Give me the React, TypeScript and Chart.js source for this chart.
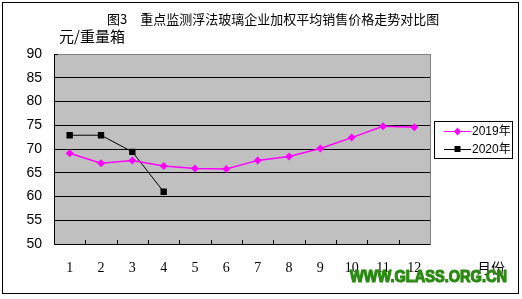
import React, { useEffect, useRef } from "react";
import { Chart, registerables } from "chart.js";

Chart.register(...registerables);

const months = ["1", "2", "3", "4", "5", "6", "7", "8", "9", "10", "11", "12"];
const series2019 = [69.1, 67.0, 67.6, 66.4, 65.9, 65.8, 67.6, 68.4, 70.1, 72.4, 74.8, 74.6];
const series2020: (number | null)[] = [72.9, 72.9, 69.4, 61.0, null, null, null, null, null, null, null, null];
const yTicks = [50, 55, 60, 65, 70, 75, 80, 85, 90];
const titleText = "图3　重点监测浮法玻璃企业加权平均销售价格走势对比图";
const unitText = "元/重量箱";
const xUnitText = "月份";
const watermark = "WWW.GLASS.ORG.CN";
const legendLabels = ["2019年", "2020年"];

const decorPlugin = {
  id: "decor",
  beforeDraw(chart: any) {
    const { ctx, chartArea: a } = chart;
    ctx.save();
    ctx.fillStyle = "#ffffff";
    ctx.fillRect(0, 0, chart.width, chart.height);
    ctx.fillStyle = "#c0c0c0";
    ctx.fillRect(a.left, a.top, a.right - a.left, a.bottom - a.top);
    ctx.strokeStyle = "#808080";
    ctx.lineWidth = 1;
    ctx.strokeRect(a.left + 0.5, a.top + 0.5, a.right - a.left, a.bottom - a.top);
    ctx.restore();
  },
  afterDraw(chart: any) {
    const { ctx, chartArea: a } = chart;
    const xs = chart.scales.x;
    ctx.save();
    ctx.strokeStyle = "#000";
    ctx.lineWidth = 1;
    ctx.beginPath();
    ctx.moveTo(a.left + 0.5, a.top);
    ctx.lineTo(a.left + 0.5, a.bottom + 0.5);
    ctx.lineTo(a.right, a.bottom + 0.5);
    ctx.stroke();
    const step = xs.getPixelForValue(1) - xs.getPixelForValue(0);
    ctx.beginPath();
    for (let i = 1; i < months.length; i++) {
      const px = Math.round(xs.getPixelForValue(i) - step / 2) + 0.5;
      ctx.moveTo(px, a.bottom);
      ctx.lineTo(px, a.bottom - 4);
    }
    ctx.stroke();
    ctx.beginPath();
    ctx.moveTo(a.left, a.top + 0.5);
    ctx.lineTo(a.left + 4, a.top + 0.5);
    ctx.stroke();

    ctx.strokeStyle = "#000";
    ctx.strokeRect(2.5, 2.5, 516, 291);

    ctx.fillStyle = "#000";
    ctx.textBaseline = "middle";
    ctx.textAlign = "left";
    ctx.font = "13px 'Noto Sans CJK SC'";
    ctx.fillText(titleText, 107, 19);
    ctx.font = "15px 'Noto Sans CJK SC'";
    ctx.fillText(unitText, 59, 36);
    ctx.font = "14px 'Noto Sans CJK SC'";
    ctx.fillText(xUnitText, 477, 268);

    const lx = 434, ly = 121, lw = 78, lh = 37;
    ctx.fillStyle = "#fff";
    ctx.fillRect(lx, ly, lw, lh);
    ctx.strokeStyle = "#000";
    ctx.strokeRect(lx + 0.5, ly + 0.5, lw, lh);
    const rows = [
      { y: 131, color: "#ff00ff", label: legendLabels[0], shape: "diamond" },
      { y: 149, color: "#000000", label: legendLabels[1], shape: "square" },
    ];
    for (const r of rows) {
      ctx.strokeStyle = r.color;
      ctx.lineWidth = 1;
      ctx.beginPath();
      ctx.moveTo(444, r.y + 0.5);
      ctx.lineTo(471, r.y + 0.5);
      ctx.stroke();
      ctx.fillStyle = r.color;
      if (r.shape === "diamond") {
        ctx.beginPath();
        ctx.moveTo(457.5, r.y - 3.5);
        ctx.lineTo(461, r.y + 0.5);
        ctx.lineTo(457.5, r.y + 4.5);
        ctx.lineTo(454, r.y + 0.5);
        ctx.closePath();
        ctx.fill();
      } else {
        ctx.fillRect(454.5, r.y - 3, 6, 6);
      }
      ctx.fillStyle = "#000";
      ctx.font = "12px 'Liberation Sans', 'Noto Sans CJK SC'";
      ctx.fillText(r.label, 472, r.y + 1);
    }

    ctx.fillStyle = "#2a8a12";
    ctx.strokeStyle = "#2a8a12";
    ctx.lineWidth = 1.2;
    ctx.font = "bold 16px 'Liberation Sans'";
    ctx.textBaseline = "middle";
    ctx.fillText(watermark, 350, 278, 157);
    ctx.strokeText(watermark, 350, 278, 157);
    ctx.restore();
  },
};

export default function App() {
  const ref = useRef<HTMLCanvasElement>(null);
  useEffect(() => {
    document.body.style.margin = "0";
    const chart = new Chart(ref.current!, {
      type: "line",
      data: {
        labels: months,
        datasets: [
          {
            label: legendLabels[0],
            data: series2019,
            borderColor: "#ff00ff",
            backgroundColor: "#ff00ff",
            borderWidth: 1.5,
            pointStyle: "rectRot",
            pointRadius: 4,
            pointBorderWidth: 0,
            tension: 0,
          },
          {
            label: legendLabels[1],
            data: series2020,
            borderColor: "#000000",
            backgroundColor: "#000000",
            borderWidth: 1,
            pointStyle: "rect",
            pointRadius: 4.5,
            pointBorderWidth: 0,
            tension: 0,
            spanGaps: false,
          },
        ],
      },
      options: {
        responsive: false,
        animation: false,
        layout: { padding: { left: 0, top: 54, right: 92, bottom: 25 } },
        plugins: { legend: { display: false }, title: { display: false }, tooltip: { enabled: false } },
        scales: {
          x: {
            offset: true,
            grid: { display: false, drawTicks: false },
            border: { display: false },
            ticks: {
              color: "#000",
              padding: 16,
              maxRotation: 0,
              autoSkip: false,
              font: { family: "'Liberation Serif'", size: 14 },
            },
            afterFit: (s: any) => { s.height = 30; },
          },
          y: {
            min: 50,
            max: 90,
            afterBuildTicks: (s: any) => { s.ticks = yTicks.map((v) => ({ value: v })); },
            grid: {
              drawTicks: false,
              color: (c: any) => (c.tick && (c.tick.value === 90 || c.tick.value === 50) ? "rgba(0,0,0,0)" : "#000"),
              lineWidth: 1,
            },
            border: { display: false },
            ticks: {
              color: "#000",
              padding: 12,
              font: { family: "'Liberation Sans'", size: 14 },
            },
            afterFit: (s: any) => { s.width = 54; },
          },
        },
      },
      plugins: [decorPlugin],
    });
    return () => chart.destroy();
  }, []);
  return (
    <div style={{ position: "absolute", left: 0, top: 0, width: 522, height: 299 }}>
      <canvas ref={ref} width={522} height={299} style={{ width: 522, height: 299 }} />
    </div>
  );
}
